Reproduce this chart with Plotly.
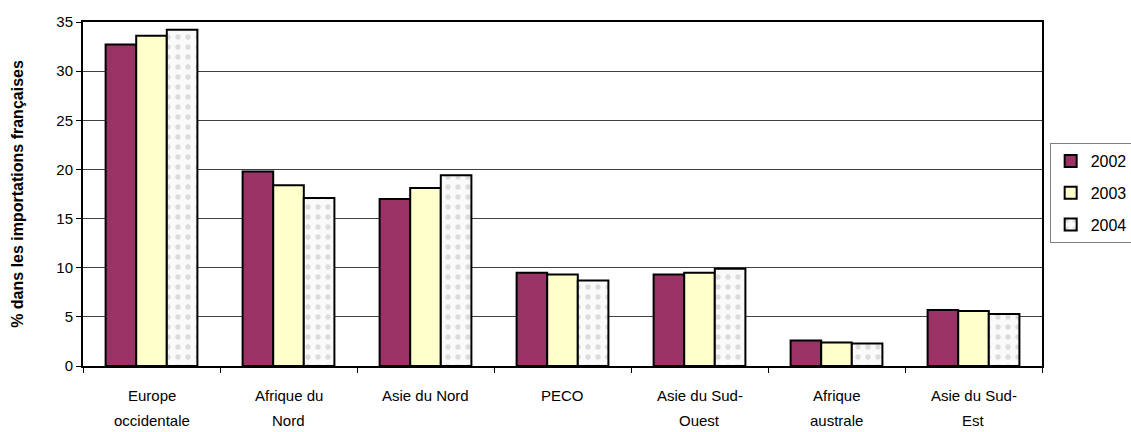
import plotly.graph_objects as go

categories = ["Europe<br>occidentale", "Afrique du<br>Nord", "Asie du Nord", "PECO",
              "Asie du Sud-<br>Ouest", "Afrique<br>australe", "Asie du Sud-<br>Est"]
v2002 = [32.7, 19.8, 17.0, 9.5, 9.3, 2.6, 5.7]
v2003 = [33.6, 18.4, 18.1, 9.3, 9.5, 2.4, 5.6]
v2004 = [34.2, 17.1, 19.4, 8.7, 9.9, 2.3, 5.3]
y_ticks = [0, 5, 10, 15, 20, 25, 30, 35]

FONT = "Liberation Sans, Arial, sans-serif"

fig = go.Figure()
fig.add_trace(go.Bar(name="2002", x=categories, y=v2002, legendgroup="a",
                     marker=dict(color="#993366", line=dict(color="black", width=2))))
fig.add_trace(go.Bar(name="2003", x=categories, y=v2003, legendgroup="b",
                     marker=dict(color="#FFFFCC", line=dict(color="black", width=2))))
fig.add_trace(go.Bar(name="2004", x=categories, y=v2004, legendgroup="c",
                     marker=dict(color="#FAFAFA", line=dict(color="black", width=2),
                                 pattern=dict(shape=".", fgcolor="#BDBDBD", bgcolor="#FAFAFA",
                                              size=10, solidity=0.22))))

# category labels drawn as annotations (two lines with Excel-like spacing)
annotations = []
for cat in categories:
    lines = cat.split("<br>")
    for i, line in enumerate(lines):
        annotations.append(dict(x=cat, xref="x", y=0, yref="paper", text=line,
                                showarrow=False, yanchor="middle", xanchor="center",
                                yshift=-29 - 25 * i,
                                font=dict(size=15, family=FONT, color="black")))

fig.update_layout(
    width=1131, height=432,
    margin=dict(l=83, r=89, t=22, b=66, autoexpand=False),
    paper_bgcolor="white", plot_bgcolor="white",
    barmode="group", bargap=0.33, bargroupgap=0,
    font=dict(family=FONT, size=15, color="black"),
    legend=dict(x=1.008, y=0.648, xanchor="left", yanchor="top",
                bordercolor="#808080", borderwidth=1, bgcolor="white",
                font=dict(size=16, family=FONT), traceorder="grouped",
                tracegroupgap=8, itemwidth=30),
    showlegend=True,
    annotations=annotations,
)
fig.update_xaxes(type="category", tickson="boundaries", ticks="outside", ticklen=5,
                 tickcolor="black", showline=True, linecolor="black", linewidth=2,
                 mirror=True, showgrid=False, showticklabels=False)
fig.update_yaxes(range=[0, 35], tickvals=y_ticks, ticks="outside", ticklen=5,
                 tickcolor="black", showline=True, linecolor="black", linewidth=2,
                 mirror=True, showgrid=True, gridcolor="#404040", gridwidth=1,
                 zeroline=False, tickfont=dict(size=15, family=FONT),
                 title=dict(text="<b>% dans les importations françaises</b>",
                            font=dict(size=16, family=FONT), standoff=29))

fig.write_html("out.html", config={"displayModeBar": False})

# remove default page margin so the figure sits at the window origin
with open("out.html", "r", encoding="utf-8") as f:
    html = f.read()
html = html.replace("<body>", '<body style="margin:0;overflow:hidden">', 1)
with open("out.html", "w", encoding="utf-8") as f:
    f.write(html)
